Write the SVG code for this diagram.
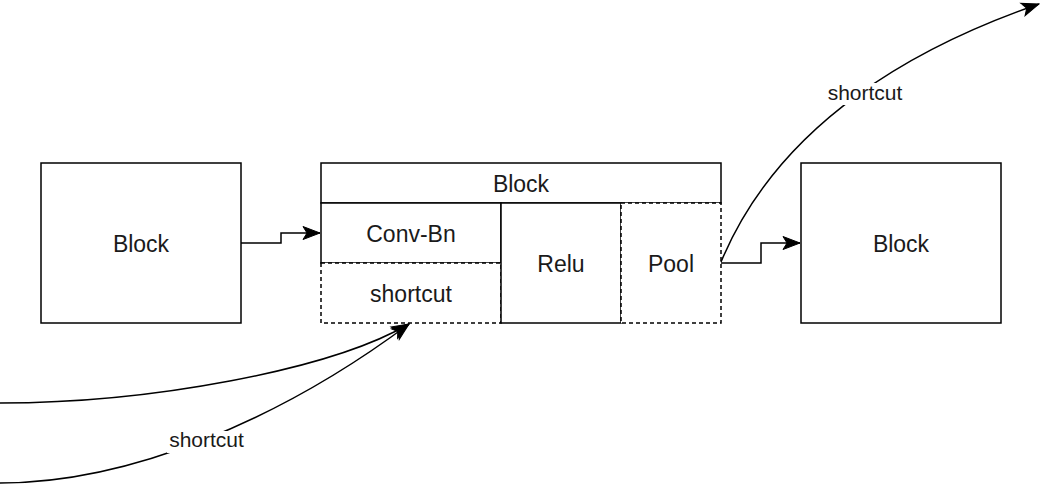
<svg xmlns="http://www.w3.org/2000/svg" width="1040" height="484" viewBox="0 0 1040 484">
<style>
.box{fill:#fff;stroke:#000;stroke-width:1.5}
.dash{fill:#fff;stroke:#000;stroke-width:1.5;stroke-dasharray:4 3}
.t{font-family:"Liberation Sans",Arial,sans-serif;font-size:23px;fill:#1a1a1a;text-anchor:middle}
.lt{font-family:"Liberation Sans",Arial,sans-serif;font-size:21px;fill:#1a1a1a;text-anchor:middle}
.edge{fill:none;stroke:#000;stroke-width:1.5}
.lbg{fill:#fff;stroke:none}
</style>
<defs>
<marker id="arr" viewBox="-19 -8 20 16" refX="0" refY="0" markerWidth="20" markerHeight="16" markerUnits="userSpaceOnUse" orient="auto">
<path d="M0,0 L-17,-6.5 L-13,0 L-17,6.5 Z" fill="#000" stroke="#000" stroke-width="1"/>
</marker>
</defs>
<g id="block-left">
<rect class="box" x="41" y="163" width="200" height="160"/>
<text class="t" x="141" y="251.5">Block</text>
</g>
<g id="block-center">
<rect class="box" x="321" y="163" width="400" height="40"/>
<text class="t" x="521" y="191.5">Block</text>
</g>
<g id="conv-bn">
<rect class="box" x="321" y="203" width="180" height="60"/>
<text class="t" x="411" y="241.5">Conv-Bn</text>
</g>
<g id="shortcut-cell">
<rect class="dash" x="321" y="263" width="180" height="60"/>
<text class="t" x="411" y="301.5">shortcut</text>
</g>
<g id="relu">
<rect class="box" x="501" y="203" width="120" height="120"/>
<text class="t" x="561" y="271.5">Relu</text>
</g>
<g id="pool">
<rect class="dash" x="621" y="203" width="100" height="120"/>
<text class="t" x="671" y="271.5">Pool</text>
</g>
<g id="block-right">
<rect class="box" x="801" y="163" width="200" height="160"/>
<text class="t" x="901" y="251.5">Block</text>
</g>
<g id="connectors">
<path class="edge" d="M241,243 H281 V233 H320" marker-end="url(#arr)"/>
<path class="edge" d="M721,263 H761 V243 H800" marker-end="url(#arr)"/>
<path class="edge" d="M721,262 C780,120 920,45 1039,4" marker-end="url(#arr)"/>
<rect class="lbg" x="826" y="83" width="78" height="22"/>
<text class="lt" x="865" y="100">shortcut</text>
<path class="edge" d="M0,403 C150,403 330,370 409,324" marker-end="url(#arr)"/>
<path class="edge" d="M0,483 C130,483 280,420 409,324" marker-end="url(#arr)"/>
<rect class="lbg" x="167" y="431" width="79" height="22"/>
<text class="lt" x="206.5" y="446.5">shortcut</text>
</g>
</svg>
